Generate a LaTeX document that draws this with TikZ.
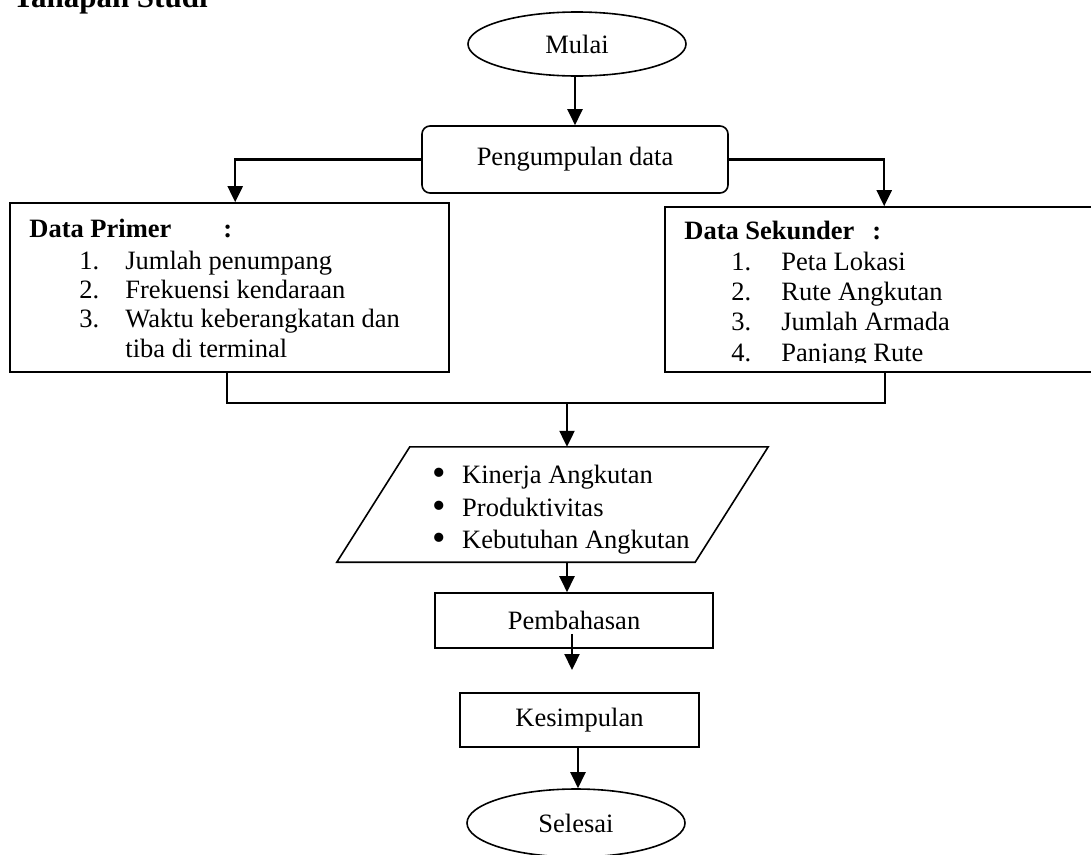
\documentclass[tikz,border=0pt]{standalone}
\usepackage{fontspec}
\setmainfont{Liberation Serif}
\usetikzlibrary{arrows.meta, positioning, calc, shapes.geometric}

\begin{document}
\begin{tikzpicture}[x=1pt,y=1pt,
  font=\fontsize{26.5}{30}\selectfont,
  box/.style={draw,line width=1.6pt,inner sep=0pt},
  oval/.style={box,ellipse},
  hd/.style={font=\fontsize{26.5}{30}\selectfont\bfseries,inner sep=0pt,anchor=base west},
  itm/.style={inner sep=0pt,anchor=base west},
  flow/.style={line width=2.2pt,-{Triangle[length=16pt,width=15pt]}},
  wire/.style={line width=1.6pt}]

\useasboundingbox (0,0) rectangle (1091,-854);

% ===== Title =====
\node[hd,font=\fontsize{31}{34}\selectfont\bfseries] (judul) at (13,-7) {Tahapan Studi};

% ===== Start and data collection =====
\node[oval,minimum width=218pt,minimum height=64pt] (mulai) at (577,-44) {Mulai};
\node[box,rounded corners=8pt,minimum width=306pt,minimum height=67pt]
  (kumpul) at (575,-159.5) {Pengumpulan data};
\draw[flow] (kumpul.north |- mulai.south) -- (kumpul.north);

% ===== Data Primer =====
\node[box,minimum width=439pt,minimum height=169pt] (primer) at (229.5,-287.5) {};
\node[hd] at ($(primer.north west)+(20,-35)$) {Data Primer};
\node[hd] at ($(primer.north west)+(214,-35)$) {:};
\node[itm] at ($(primer.north west)+(70,-67)$) {1.};
\node[itm] at ($(primer.north west)+(116,-67)$) {Jumlah penumpang};
\node[itm] at ($(primer.north west)+(70,-96)$) {2.};
\node[itm] at ($(primer.north west)+(116,-96)$) {Frekuensi kendaraan};
\node[itm] at ($(primer.north west)+(70,-125)$) {3.};
\node[itm] at ($(primer.north west)+(116,-125)$) {Waktu keberangkatan dan};
\node[itm] at ($(primer.north west)+(116,-155)$) {tiba di terminal};

% ===== Data Sekunder =====
\node[box,minimum width=435pt,minimum height=165pt] (sekunder) at (882.5,-289.5) {};
\node[hd] at ($(sekunder.north west)+(20,-33)$) {Data Sekunder};
\node[hd] at ($(sekunder.north west)+(208,-33)$) {:};
\node[itm] at ($(sekunder.north west)+(67,-64)$) {1.};
\node[itm] at ($(sekunder.north west)+(117,-64)$) {Peta Lokasi};
\node[itm] at ($(sekunder.north west)+(67,-94)$) {2.};
\node[itm] at ($(sekunder.north west)+(117,-94)$) {Rute Angkutan};
\node[itm] at ($(sekunder.north west)+(67,-124)$) {3.};
\node[itm] at ($(sekunder.north west)+(117,-124)$) {Jumlah Armada};
\begin{scope}
  \clip (sekunder.north west) rectangle ($(sekunder.south east)+(0,10)$);
  \node[itm] at ($(sekunder.north west)+(67,-155)$) {4.};
  \node[itm] at ($(sekunder.north west)+(117,-155)$) {Panjang Rute};
\end{scope}

\draw[flow] (kumpul.west) -| ($(primer.north west)+(226,0)$);
\draw[flow] (kumpul.east) -| ($(sekunder.north west)+(220,0)$);

% ===== Processing (parallelogram) =====
\node[minimum width=358pt,minimum height=115pt,inner sep=0pt] (olah) at (552.5,-504.5) {};
\draw[wire] ($(olah.north west)+(36.5,0)$) -- ($(olah.north east)+(36.5,0)$)
  -- ($(olah.south east)+(-36.5,0)$) -- ($(olah.south west)+(-36.5,0)$) -- cycle;
\node[itm] at ($(olah.center)+(-120,21)$) {\raisebox{-1.5pt}{\scalebox{1.45}{\textbullet}}};
\node[itm] at ($(olah.center)+(-90.5,21)$) {Kinerja Angkutan};
\node[itm] at ($(olah.center)+(-120,-12)$) {\raisebox{-1.5pt}{\scalebox{1.45}{\textbullet}}};
\node[itm] at ($(olah.center)+(-90.5,-12)$) {Produktivitas};
\node[itm] at ($(olah.center)+(-120,-44)$) {\raisebox{-1.5pt}{\scalebox{1.45}{\textbullet}}};
\node[itm] at ($(olah.center)+(-90.5,-44)$) {Kebutuhan Angkutan};

\coordinate (gabung) at (567,-403);
\draw[wire] ($(primer.south west)+(218,0)$) |- (gabung);
\draw[wire] ($(sekunder.south west)+(221,0)$) |- (gabung);
\draw[flow] (gabung) -- (gabung |- olah.north);

% ===== Discussion and conclusion =====
\node[box,minimum width=278pt,minimum height=55pt] (bahas) at (574,-620.5) {Pembahasan};
\draw[flow] (gabung |- olah.south) -- (gabung |- bahas.north);
\coordinate (bahasujung) at (572,-670);
\draw[flow] ($(bahas.south)+(-2,15)$) -- (bahasujung);

\node[box,minimum width=239pt,minimum height=54pt] (simpul) at (579.5,-720) {Kesimpulan};
\node[oval,minimum width=218pt,minimum height=68pt] (selesai) at (576,-823) {Selesai};
\coordinate (simpulkaki) at ($(simpul.south)+(-1.5,0)$);
\draw[flow] (simpulkaki) -- (simpulkaki |- selesai.north);
\end{tikzpicture}
\end{document}
